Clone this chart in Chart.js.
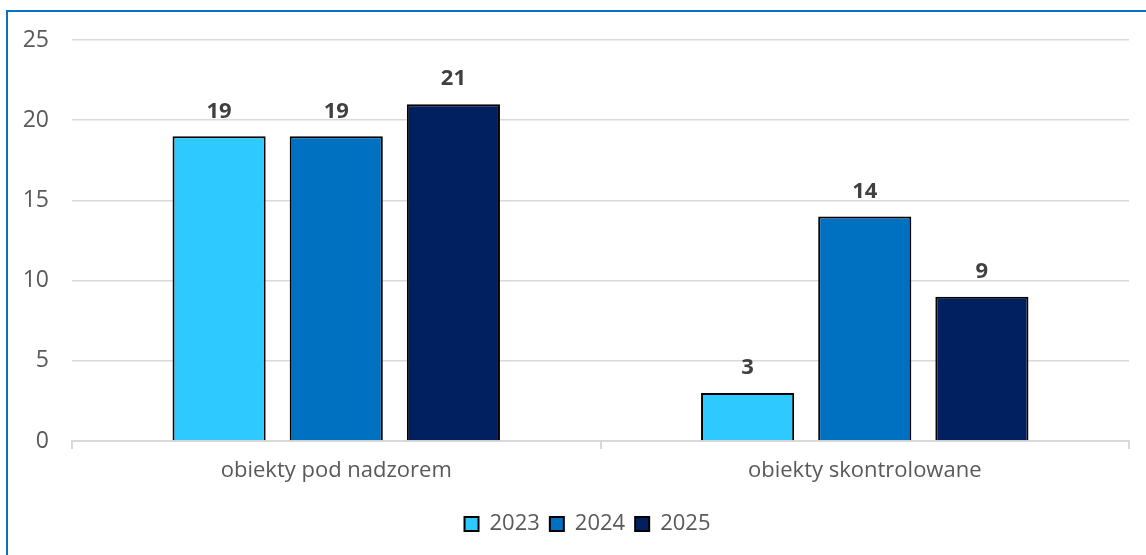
<!DOCTYPE html>
<html>
<head>
<meta charset="utf-8">
<script src="https://cdn.jsdelivr.net/npm/chart.js@4/dist/chart.umd.min.js"></script>
<style>
  html, body { margin: 0; padding: 0; background: #fff; overflow: hidden; }
  #wrap { position: relative; width: 1146px; height: 555px; }
  #frame { position: absolute; left: 6px; top: 10px; width: 1200px; height: 600px;
           border-left: 2px solid #0A72C4; border-top: 2px solid #0A72C4; pointer-events: none; }
  canvas { position: absolute; left: 0; top: 0; }
</style>
</head>
<body>
<div id="wrap">
  <canvas id="c" width="1146" height="555"></canvas>
  <div id="frame"></div>
</div>
<script>
const categories = ['obiekty pod nadzorem', 'obiekty skontrolowane'];
const seriesNames = ['2023', '2024', '2025'];
const values2023 = [19, 3];
const values2024 = [19, 14];
const values2025 = [21, 9];
const seriesColors = ['#2ECAFF', '#0070C0', '#002060'];
const yTicks = [0, 5, 10, 15, 20, 25];

const FONT = "'Open Sans', 'Liberation Sans', Arial, sans-serif";
const TXT = '#595959';

const dataLabels = {
  id: 'dataLabels',
  afterDatasetsDraw(chart) {
    const ctx = chart.ctx;
    ctx.save();
    ctx.font = 'bold 22px ' + FONT;
    ctx.fillStyle = '#404040';
    ctx.textAlign = 'center';
    ctx.textBaseline = 'middle';
    chart.data.datasets.forEach((ds, i) => {
      const meta = chart.getDatasetMeta(i);
      meta.data.forEach((bar, j) => {
        ctx.fillText(String(ds.data[j]), bar.x, bar.y - 25);
      });
    });
    ctx.restore();
  }
};

const legendShift = {
  id: 'legendShift',
  afterLayout(chart) {
    if (chart.legend) {
      chart.legend.left += 23;
      chart.legend.right += 23;
    }
  }
};

const allSeries = [values2023, values2024, values2025];
new Chart(document.getElementById('c'), {
  type: 'bar',
  data: {
    labels: categories,
    datasets: allSeries.map((vals, i) => ({
      label: seriesNames[i],
      data: vals,
      backgroundColor: seriesColors[i],
      borderColor: '#000000',
      borderWidth: 2,
      categoryPercentage: 0.665,
      barPercentage: 0.795
    }))
  },
  plugins: [dataLabels, legendShift],
  options: {
    responsive: false,
    animation: false,
    devicePixelRatio: 1,
    layout: { padding: { top: 40, right: 17, bottom: 10, left: 0 } },
    plugins: {
      legend: {
        position: 'bottom',
        labels: {
          boxWidth: 14, boxHeight: 14, padding: 10,
          color: TXT, font: { family: FONT, size: 22 }
        }
      },
      tooltip: { enabled: false }
    },
    scales: {
      x: {
        grid: { display: true, offset: true, drawOnChartArea: false, drawTicks: true,
                tickLength: 8, color: '#D9D9D9', lineWidth: 2 },
        border: { display: true, color: '#D9D9D9', width: 2 },
        ticks: { color: TXT, font: { family: FONT, size: 22 }, padding: 9 },
        afterFit(scale) { scale.height = 62; }
      },
      y: {
        min: 0, max: 25,
        afterBuildTicks(scale) { scale.ticks = yTicks.map(v => ({ value: v })); },
        grid: { color: '#D9D9D9', lineWidth: 1.5, drawTicks: false, tickLength: 0 },
        border: { display: false },
        ticks: { color: TXT, font: { family: FONT, size: 23 }, padding: 23 },
        afterFit(scale) { scale.width = 72; }
      }
    }
  }
});
</script>
</body>
</html>
